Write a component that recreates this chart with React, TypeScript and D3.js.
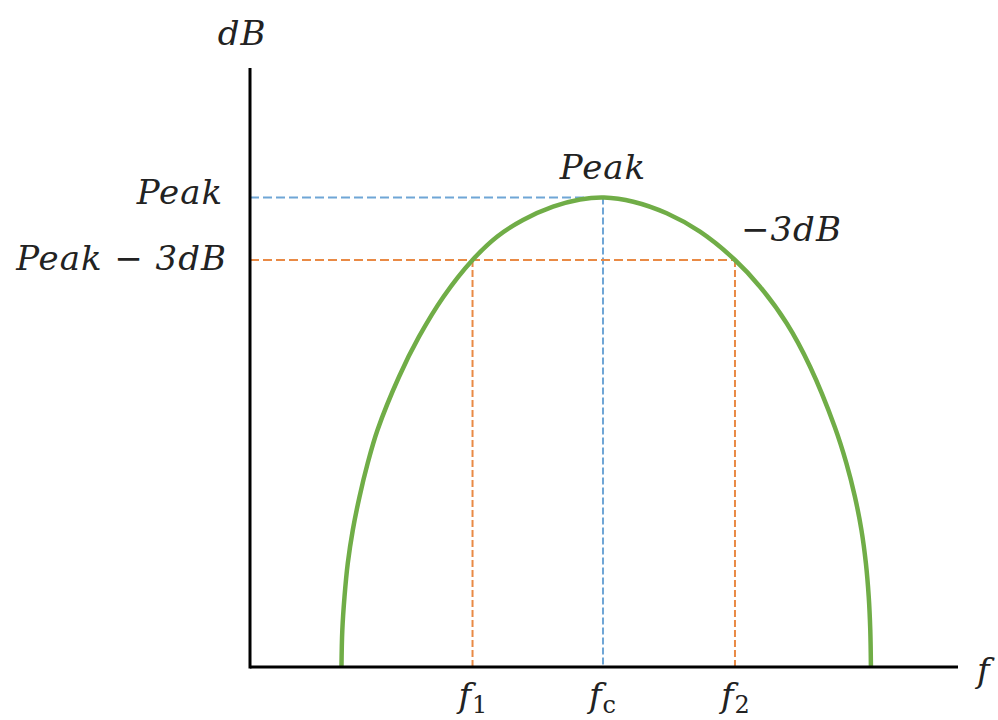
import React from "react";
import * as d3 from "d3";

// Frequency response curve points (arbitrary units)
const curveFreq = [12.92, 13.04, 13.35, 13.81, 14.52, 15.47, 16.62, 18.01, 21.05, 23.87, 27.33, 31.43, 34.89, 38.56, 42.8, 46.61, 50.0, 54.14, 58.86, 63.56, 68.5, 72.03, 75.8, 79.11, 82.58, 84.24, 85.44, 86.36, 86.99, 87.39, 87.61, 87.7];
const curveDb = [0, 6.18, 11.74, 17.31, 22.87, 28.43, 34.01, 39.57, 48.46, 55.14, 61.82, 67.95, 71.84, 74.62, 76.84, 78.05, 78.38, 77.68, 75.74, 72.67, 67.95, 63.49, 57.38, 50.13, 40.12, 34.01, 28.43, 22.87, 17.31, 11.74, 6.18, 0];

const peakFreq = 49.86;
const peakDb = 78.38;
const minus3Db = 67.95;
const f1Freq = 31.43;
const f2Freq = 68.5;

const xTickFreqs = [f1Freq, peakFreq, f2Freq];
const xTickNames = ["1", "c", "2"];

const W = 998;
const H = 720;

export default function App() {
  const x = d3.scaleLinear().domain([0, 100]).range([250, 958]);
  const y = d3.scaleLinear().domain([0, 100]).range([667, 68]);

  const pts: [number, number][] = curveFreq.map((f, i) => [f, curveDb[i]]);
  const line = d3
    .line<[number, number]>()
    .x((d) => x(d[0]))
    .y((d) => y(d[1]))
    .curve(d3.curveCatmullRom.alpha(0.5));

  const font = "'DejaVu Serif', serif";
  const blue = "#6fa6d6";
  const orange = "#e98a45";
  const green = "#70ad47";
  const fs = 34;

  return (
    <svg width={W} height={H} style={{ position: "absolute", left: 0, top: 0, background: "#fff" }}>
      <rect width={W} height={H} fill="#fff" />
      {/* dashed guides */}
      <line x1={x(0)} x2={x(peakFreq)} y1={y(peakDb)} y2={y(peakDb)} stroke={blue} strokeWidth={2} strokeDasharray="9,4" />
      <line x1={x(peakFreq)} x2={x(peakFreq)} y1={y(peakDb)} y2={y(0)} stroke={blue} strokeWidth={2} strokeDasharray="7,3" />
      <line x1={x(0)} x2={x(f2Freq)} y1={y(minus3Db)} y2={y(minus3Db)} stroke={orange} strokeWidth={2} strokeDasharray="9,4" />
      <line x1={x(f1Freq)} x2={x(f1Freq)} y1={y(minus3Db)} y2={y(0)} stroke={orange} strokeWidth={2} strokeDasharray="7,3" />
      <line x1={x(f2Freq)} x2={x(f2Freq)} y1={y(minus3Db)} y2={y(0)} stroke={orange} strokeWidth={2} strokeDasharray="7,3" />

      {/* curve */}
      <path d={line(pts) || ""} fill="none" stroke={green} strokeWidth={4.5} />

      {/* axes */}
      <line x1={x(0)} x2={x(0)} y1={y(100)} y2={y(0) + 1.5} stroke="#000" strokeWidth={3} />
      <line x1={x(0)} x2={x(100)} y1={y(0)} y2={y(0)} stroke="#000" strokeWidth={3} />

      {/* labels */}
      <g fontFamily={font} fontStyle="italic" fontSize={fs} fill="#222" letterSpacing={1}>
        <text x={242} y={45} textAnchor="middle">dB</text>
        <text x={223} y={204} textAnchor="end">Peak</text>
        <text x={227} y={270} textAnchor="end">Peak − 3dB</text>
        <text x={x(peakFreq)} y={179} textAnchor="middle">Peak</text>
        <text x={741} y={241}>−3dB</text>
        {xTickFreqs.map((f, i) => (
          <text key={i} x={x(f) - 14} y={707}>
            f
            <tspan fontStyle="normal" fontSize={24} dy={6}>{xTickNames[i]}</tspan>
          </text>
        ))}
        <text x={977} y={682}>f</text>
      </g>
    </svg>
  );
}
